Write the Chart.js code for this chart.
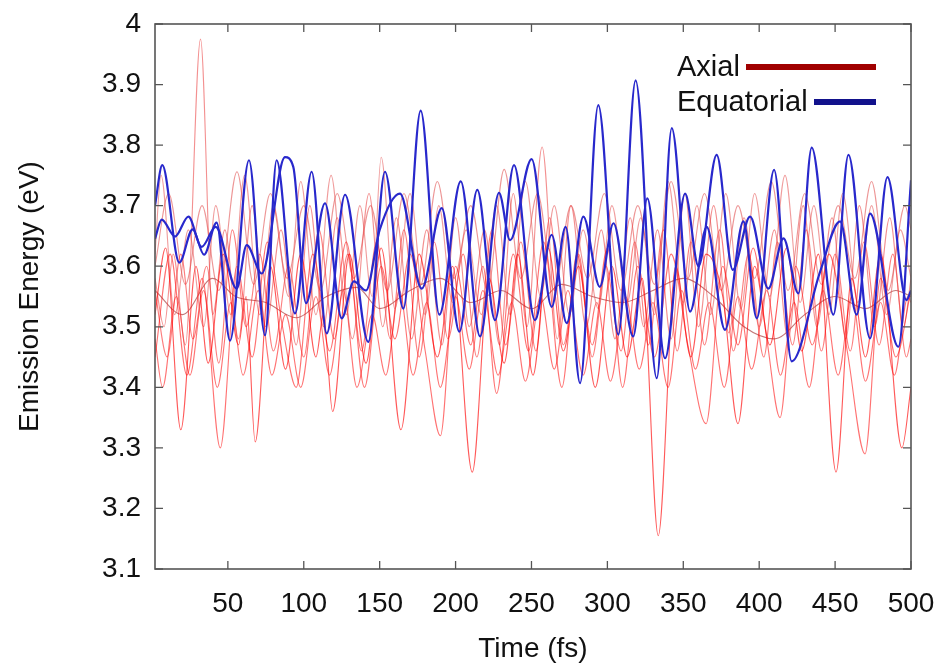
<!DOCTYPE html>
<html>
<head>
<meta charset="utf-8">
<script src="https://cdn.jsdelivr.net/npm/chart.js@4/dist/chart.umd.min.js"></script>
<style>
  body { margin: 0; background: #fff; }
  #wrap { position: relative; width: 945px; height: 668px; }
  #legend { position: absolute; left: 677px; top: 49px; width: 199px;
    font-family: "Liberation Sans", Arial, sans-serif; font-size: 29px; color: #111; }
  .row { display: flex; align-items: center; height: 35px; }
  .row span.bar { flex: 1; height: 6px; margin-left: 6px; }
</style>
</head>
<body>
<div id="wrap">
  <canvas id="chart" width="945" height="668"></canvas>
  <div id="legend">
    <div class="row"><span>Axial</span><span class="bar" style="background:#a00000"></span></div>
    <div class="row"><span>Equatorial</span><span class="bar" style="background:#12128c"></span></div>
  </div>
</div>
<script>
// tick labels
const timeTicks = [50, 100, 150, 200, 250, 300, 350, 400, 450, 500];
const energyTicks = [3.1, 3.2, 3.3, 3.4, 3.5, 3.6, 3.7, 3.8, 3.9, 4.0];

// equatorial trajectories: [time fs, energy eV] at turning points
const equatorial1 = [[2,3.70],[6.8,3.767],[18,3.606],[26.8,3.661],[34.3,3.619],[42.6,3.672],[51.4,3.477],[63.9,3.775],[74.5,3.486],[82.1,3.775],[94.2,3.522],[105.2,3.756],[115.1,3.489],[127.2,3.718],[142.5,3.475],[153.5,3.756],[165.6,3.53],[177,3.857],[189.3,3.52],[203.4,3.74],[216.1,3.484],[228.6,3.721],[235.9,3.643],[250.1,3.777],[263.3,3.533],[272.5,3.665],[282,3.407],[294,3.866],[307.2,3.487],[318.6,3.907],[332.5,3.415],[342.4,3.828],[354.5,3.525],[365.4,3.665],[377.5,3.495],[389.6,3.674],[398.4,3.514],[409.8,3.759],[421.4,3.443],[440,3.59],[453.3,3.674],[464.2,3.52],[473,3.687],[491.7,3.467],[500,3.742]];
const equatorial2 = [[2,3.645],[6.4,3.677],[15.2,3.649],[24,3.682],[32.7,3.632],[42,3.665],[55.8,3.563],[62.4,3.635],[72.3,3.588],[87.6,3.78],[93.1,3.764],[101.5,3.539],[114,3.704],[125,3.514],[133,3.575],[141,3.56],[150,3.66],[163.4,3.72],[177.7,3.563],[190.9,3.696],[202.5,3.492],[214.3,3.726],[226,3.511],[238.5,3.767],[252.3,3.511],[263.3,3.652],[273.2,3.506],[284.2,3.682],[295,3.566],[304,3.671],[317,3.484],[326.3,3.712],[338,3.448],[351.2,3.72],[360,3.60],[372,3.784],[382.6,3.594],[394,3.682],[406,3.563],[416,3.646],[425.8,3.555],[434.6,3.796],[448.9,3.52],[458.8,3.784],[473,3.481],[484.5,3.747],[497,3.544],[500,3.56]];

// axial trajectories
const axial1 = [[2,3.52],[9,3.63],[19,3.33],[29,3.60],[37,3.44],[47,3.62],[57,3.47],[62,3.55],[68,3.31],[78,3.60],[88,3.43],[98,3.62],[108,3.45],[113,3.52],[119,3.36],[130,3.62],[141,3.44],[151,3.63],[164,3.33],[176,3.62],[188,3.45],[198,3.60],[211,3.26],[222,3.58],[232,3.44],[241,3.62],[251,3.42],[261,3.63],[271,3.46],[281,3.60],[292,3.40],[303,3.60],[313,3.45],[323,3.58],[333.5,3.155],[345,3.60],[355,3.45],[365,3.62],[376,3.55],[386,3.34],[397,3.60],[407,3.47],[418,3.63],[428,3.46],[439,3.62],[450.6,3.26],[461,3.58],[470,3.45],[480,3.62],[494,3.30],[500,3.40]];
const axial2 = [[2,3.45],[12,3.62],[23,3.42],[33,3.58],[45,3.30],[56,3.60],[66,3.45],[76,3.64],[86,3.50],[95,3.40],[106,3.62],[117,3.46],[128,3.64],[140,3.40],[151,3.60],[160,3.48],[170,3.62],[180,3.46],[190,3.32],[200,3.60],[210,3.47],[218,3.60],[227,3.39],[238,3.62],[248,3.46],[258,3.64],[270,3.40],[280,3.62],[290,3.47],[300,3.63],[310,3.40],[320,3.60],[331,3.45],[342,3.62],[353,3.47],[365,3.34],[376,3.60],[386,3.47],[396,3.63],[405,3.48],[413.7,3.35],[424,3.60],[435,3.47],[446,3.62],[458,3.46],[469.7,3.29],[480,3.58],[490,3.45],[500,3.56]];
const axial3 = [[2,3.58],[8,3.50],[14,3.62],[22,3.47],[32,3.975],[40,3.52],[48,3.66],[57,3.48],[66,3.70],[75,3.50],[85,3.66],[95,3.47],[104,3.70],[113,3.50],[122,3.68],[132,3.48],[143,3.72],[152,3.50],[161,3.68],[171,3.48],[181,3.66],[191,3.47],[200,3.68],[209,3.50],[219,3.66],[229,3.47],[238,3.72],[247,3.50],[257,3.797],[267,3.48],[276,3.70],[286,3.50],[296,3.66],[305,3.48],[315,3.68],[324,3.50],[333,3.66],[342,3.48],[351,3.72],[360,3.50],[370,3.70],[380,3.49],[390,3.68],[400,3.50],[410,3.66],[419,3.48],[429,3.70],[438,3.50],[448,3.68],[457,3.48],[466,3.70],[476,3.50],[486,3.68],[495,3.50],[500,3.58]];
const axial4 = [[2,3.62],[6,3.75],[15,3.52],[24,3.66],[34,3.50],[42,3.70],[52,3.52],[61,3.75],[71,3.52],[80,3.70],[90,3.55],[98,3.74],[108,3.52],[118,3.75],[128,3.52],[137,3.70],[145,3.55],[151,3.78],[160,3.53],[170,3.72],[180,3.52],[189,3.70],[198,3.54],[207,3.66],[217,3.52],[227,3.70],[236,3.52],[246,3.74],[256,3.55],[265,3.70],[275,3.52],[284,3.66],[294,3.53],[303,3.70],[313,3.54],[322,3.68],[331,3.52],[340,3.74],[350,3.54],[359,3.70],[368,3.52],[378,3.72],[388,3.53],[397,3.72],[407,3.55],[417,3.75],[427,3.54],[436,3.70],[446,3.52],[455,3.72],[465,3.54],[474,3.70],[484,3.52],[493,3.66],[500,3.58]];
const axial5 = [[2,3.56],[10,3.45],[19,3.62],[27,3.48],[36,3.60],[44,3.44],[53,3.66],[62,3.50],[71,3.62],[80,3.46],[90,3.60],[100,3.45],[110,3.66],[120,3.48],[129,3.62],[138,3.46],[148,3.64],[157,3.48],[166,3.66],[176,3.45],[186,3.64],[195,3.48],[205,3.62],[214,3.45],[224,3.66],[233,3.47],[243,3.64],[253,3.46],[262,3.68],[271,3.47],[281,3.62],[290,3.45],[299,3.60],[309,3.46],[318,3.64],[327,3.47],[337,3.66],[346,3.46],[355,3.64],[364,3.47],[374,3.66],[383,3.46],[393,3.62],[403,3.45],[412,3.64],[422,3.47],[431,3.66],[441,3.46],[450,3.62],[460,3.46],[469,3.64],[479,3.47],[488,3.62],[497,3.45],[500,3.48]];
const axial6 = [[2,3.48],[7,3.40],[16,3.55],[25,3.42],[34,3.56],[43,3.40],[52,3.54],[60,3.42],[70,3.56],[79,3.42],[88,3.52],[98,3.40],[108,3.55],[117,3.42],[126,3.56],[135,3.40],[145,3.52],[154,3.42],[163,3.56],[172,3.42],[181,3.54],[190,3.40],[200,3.55],[209,3.43],[218,3.56],[228,3.42],[237,3.54],[246,3.41],[256,3.55],[265,3.43],[274,3.56],[284,3.42],[293,3.54],[302,3.41],[312,3.55],[321,3.43],[330,3.54],[340,3.40],[349,3.56],[358,3.43],[367,3.54],[377,3.40],[386,3.55],[395,3.43],[405,3.56],[414,3.42],[423,3.54],[433,3.40],[442,3.56],[452,3.42],[461,3.55],[470,3.41],[480,3.54],[489,3.42],[498,3.55],[500,3.54]];
const axial7 = [[2,3.60],[11,3.72],[22,3.57],[33,3.70],[44,3.56],[56,3.756],[67,3.57],[78,3.72],[89,3.58],[100,3.70],[111,3.56],[122,3.72],[133,3.58],[144,3.70],[155,3.56],[166,3.72],[177,3.57],[188,3.74],[199,3.58],[210,3.70],[221,3.56],[232,3.76],[243,3.58],[254,3.72],[265,3.56],[276,3.70],[287,3.58],[298,3.72],[309,3.56],[320,3.70],[331,3.57],[342,3.74],[353,3.58],[364,3.72],[375,3.56],[386,3.70],[397,3.58],[408,3.74],[419,3.56],[430,3.72],[441,3.57],[452,3.70],[463,3.58],[474,3.74],[485,3.56],[496,3.70],[500,3.66]];
const axial8 = [[2,3.56],[20,3.52],[40,3.58],[55,3.55],[75,3.54],[95,3.515],[115,3.55],[135,3.565],[150,3.53],[170,3.56],[190,3.58],[210,3.54],[230,3.56],[250,3.53],[270,3.57],[290,3.55],[310,3.54],[330,3.56],[350,3.58],[370,3.55],[390,3.50],[410,3.48],[430,3.52],[450,3.55],[470,3.53],[490,3.56],[500,3.55]];

const axialSeries = [axial1, axial2, axial3, axial4, axial5, axial6, axial7, axial8];
const axialColors = ['rgba(255,0,0,0.65)', 'rgba(255,20,20,0.6)', 'rgba(235,70,70,0.6)', 'rgba(230,90,90,0.6)',
  'rgba(250,40,40,0.6)', 'rgba(255,0,0,0.55)', 'rgba(225,80,80,0.6)', 'rgba(170,60,60,0.7)'];

const toXY = (arr) => arr.map(([t, e]) => ({ x: t, y: e }));

const datasets = [];
[equatorial1, equatorial2].forEach((s) => {
  datasets.push({ data: toXY(s), borderColor: '#2828cc', borderWidth: 2.2, order: 0 });
});
axialSeries.forEach((s, i) => {
  datasets.push({ data: toXY(s), borderColor: axialColors[i], borderWidth: 1.1, order: 1 });
});

// inward ticks on all four sides plus the frame
const frame = {
  id: 'frame',
  afterDraw(chart) {
    const { ctx, chartArea: a, scales: { x, y } } = chart;
    ctx.save();
    ctx.strokeStyle = '#555';
    ctx.lineWidth = 1.3;
    ctx.beginPath();
    timeTicks.forEach((v) => {
      const px = x.getPixelForValue(v);
      ctx.moveTo(px, a.bottom); ctx.lineTo(px, a.bottom - 8);
      ctx.moveTo(px, a.top); ctx.lineTo(px, a.top + 8);
    });
    energyTicks.forEach((v) => {
      const py = y.getPixelForValue(v);
      ctx.moveTo(a.left, py); ctx.lineTo(a.left + 8, py);
      ctx.moveTo(a.right, py); ctx.lineTo(a.right - 8, py);
    });
    ctx.stroke();
    ctx.lineWidth = 1.6;
    ctx.strokeRect(a.left, a.top, a.right - a.left, a.bottom - a.top);
    ctx.restore();
  },
};

const font = { family: '"Liberation Sans", Arial, sans-serif', size: 28 };

new Chart(document.getElementById('chart'), {
  type: 'line',
  data: { datasets },
  options: {
    responsive: false,
    animation: false,
    devicePixelRatio: 1,
    layout: { autoPadding: false, padding: { left: 0, top: 24, right: 34, bottom: 0 } },
    elements: {
      point: { radius: 0 },
      line: { cubicInterpolationMode: 'monotone', fill: false },
    },
    plugins: { legend: { display: false }, tooltip: { enabled: false } },
    scales: {
      x: {
        type: 'linear',
        min: 2,
        max: 500,
        afterBuildTicks: (s) => { s.ticks = timeTicks.map((v) => ({ value: v })); },
        afterFit: (s) => { s.height = 99; s.paddingLeft = 0; s.paddingRight = 0; },
        grid: { display: false, drawTicks: false },
        border: { display: false },
        ticks: { font, color: '#111', padding: 18, maxRotation: 0 },
        title: { display: true, text: 'Time (fs)', font, color: '#111', padding: { top: 0, bottom: 2 } },
      },
      y: {
        type: 'linear',
        min: 3.1,
        max: 4,
        afterBuildTicks: (s) => { s.ticks = energyTicks.map((v) => ({ value: v })); },
        afterFit: (s) => { s.width = 155; s.paddingTop = 0; s.paddingBottom = 0; },
        grid: { display: false, drawTicks: false },
        border: { display: false },
        ticks: { font, color: '#111', padding: 14, callback: (v) => String(+v.toFixed(1)) },
        title: { display: true, text: 'Emission Energy (eV)', font, color: '#111', padding: { top: 13, bottom: 0 } },
      },
    },
  },
  plugins: [frame],
});
</script>
</body>
</html>
